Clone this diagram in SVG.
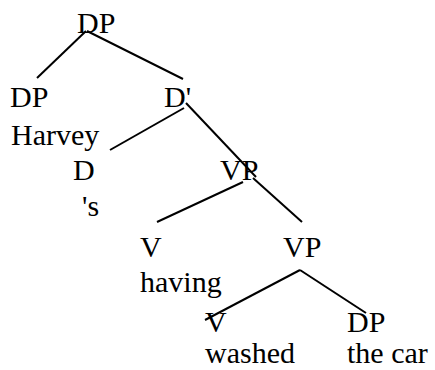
<svg xmlns="http://www.w3.org/2000/svg" width="435" height="370" viewBox="0 0 435 370" font-family="'Liberation Serif', 'DejaVu Serif', serif" font-size="30">
<style>
.t{font-family:'Liberation Serif','DejaVu Serif',serif;font-size:30px;fill:#000}
.e{stroke:#000;stroke-width:2;fill:none}
</style>
<rect width="435" height="370" fill="#fff"/>
<g id="connectors">
<line class="e" x1="86" y1="31" x2="37" y2="78"/>
<line class="e" x1="87" y1="31" x2="183" y2="79"/>
<line class="e" x1="184" y1="108" x2="110" y2="150"/>
<line class="e" x1="186" y1="103" x2="256" y2="177"/>
<line class="e" x1="243" y1="182" x2="157" y2="222"/>
<line class="e" x1="253" y1="178" x2="302" y2="222"/>
<line class="e" x1="300" y1="270" x2="205" y2="320"/>
<line class="e" x1="300" y1="270" x2="366" y2="313"/>
</g>
<g id="n-dp-top"><text class="t" x="77" y="33">DP</text></g>
<g id="n-dp-harvey"><text class="t" x="10" y="107">DP</text><text class="t" x="11" y="145">Harvey</text></g>
<g id="n-dbar"><text class="t" x="164" y="107">D'</text></g>
<g id="n-d"><text class="t" x="73" y="180">D</text><text class="t" x="82" y="216">'s</text></g>
<g id="n-vp1"><text class="t" x="220" y="180">VP</text></g>
<g id="n-v-having"><text class="t" x="140" y="257">V</text><text class="t" x="140" y="292">having</text></g>
<g id="n-vp2"><text class="t" x="283" y="257">VP</text></g>
<g id="n-v-washed"><text class="t" x="205" y="332">V</text><text class="t" x="205" y="363">washed</text></g>
<g id="n-dp-car"><text class="t" x="347" y="332">DP</text><text class="t" x="347" y="363">the car</text></g>
</svg>
